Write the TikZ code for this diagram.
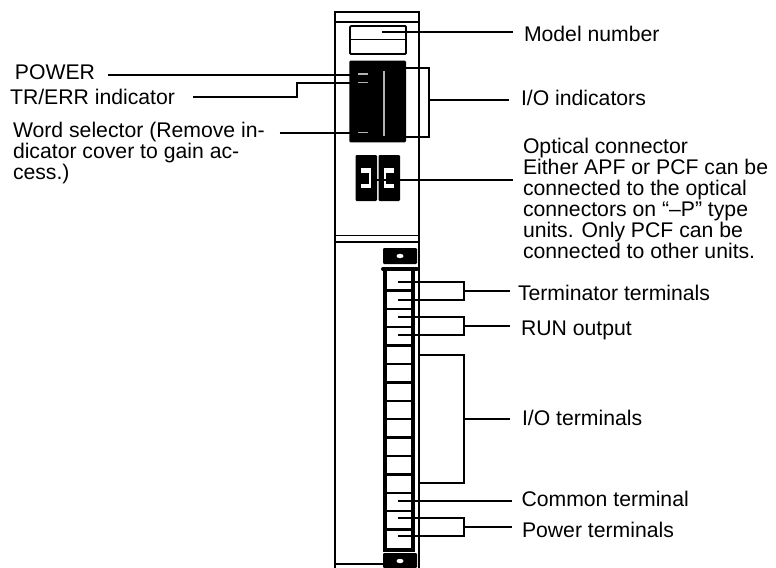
\documentclass[tikz,border=0pt]{standalone}
\usepackage{fontspec}
\setmainfont{Liberation Sans}
\tikzset{
  lbl/.style={anchor=base west, inner ysep=0pt, inner xsep=#1*0.75pt, outer sep=0pt, font=\fontsize{15.9}{15.75}\selectfont},
  lblr/.style={lbl=#1, anchor=base east},
  lblm/.style={lbl=#1, anchor=west, align=left},
  lead/.style={draw=black, line width=1.5pt},
  wall/.style={draw=black, line width=1.4pt},
  blk/.style={fill=black, rounded corners=0.8pt},
}
\newcommand{\bracketlead}[4]{\draw[lead] (#1,#2) -- (464,#2) -- (464,#3) -- (#1,#3); \draw[lead] (464,{(#2+#3)/2}) -- (#4.west |- 464,{(#2+#3)/2});}
\begin{document}
\begin{tikzpicture}[x=0.75pt, y=-0.75pt]
\useasboundingbox (0,0) rectangle (776,568);
% housing
\draw[wall] (335,568) -- (335,12) -- (419,12) -- (419,568);
\draw[wall] (335,22) -- (419,22);
\draw[wall, line width=1.1pt] (335,235.5) -- (419,235.5);
\draw[wall, line width=1.1pt] (335,242) -- (419,242);
\draw[wall] (335,564) -- (383,564);
% model number plate
\draw[wall, rounded corners=0.8pt] (350,26) rectangle (406,54);
\draw[wall] (350,39.5) -- (406,39.5);
% indicators
\fill[blk] (349.3,60.7) rectangle (406,142.3);
\foreach \y in {74,82.7,132.7} \draw[gray!60, line width=1pt] (358.3,\y) -- (367.7,\y);
\draw[gray!60, line width=1pt] (384,70.7) -- (384,135.7);
% optical connector
\fill[blk] (355.5,155) rectangle (377,201);
\fill[blk] (378.5,155) rectangle (400,201);
\fill[white] (361.3,168.3) rectangle (370.7,187.7);
\fill[black] (361.3,173) rectangle (369,183.5);
\fill[white] (384.3,168.3) rectangle (394,187.7);
\fill[black] (386,173) rectangle (394,183.5);
% terminal block
\fill[blk] (383,248) rectangle (417,264);
\fill[white] (400,256) ellipse (3.5 and 2.2);
\fill[blk] (383,553) rectangle (417,568);
\fill[white] (400,561) ellipse (3.5 and 2.2);
\draw[black, line width=3pt] (385,268) -- (385,550) -- (413,550) -- (413,268);
\draw[black, line width=3pt, line cap=round] (383,269) -- (417,269);
\foreach \i in {1,...,14} \draw[black, line width=1.9pt] (385,{272+18.4*\i}) -- (413,{272+18.4*\i});
% labels right
\node[lbl=11] (model) at (513,41) {Model number};
\node[lbl=12.5] (ioind) at (508.5,105) {I/O indicators};
\node[lblm=10] (optical) at (513,198) {Optical connector\\Either APF or PCF can be\\connected to the optical\\connectors on ``--P'' type\\units. Only PCF can be\\connected to other units.};
\node[lbl=8] (termin) at (510,300) {Terminator terminals};
\node[lbl=11] (runout) at (510,335.7) {RUN output};
\node[lbl=12] (ioterm) at (510,425) {I/O terminals};
\node[lbl=9.5] (common) at (512,506.7) {Common terminal};
\node[lbl=10] (powert) at (512,537) {Power terminals};
% labels left
\node[lblr=13] (power) at (108,79) {POWER};
\node[lblr=18] (trerr) at (193,104) {TR/ERR indicator};
\node[lblm=15] (word) at (-2,153.5) {Word selector (Remove in-\\dicator cover to gain ac-\\cess.)};
% leaders
\coordinate (modelend) at (381.7,32);
\coordinate (ledpower) at (349.5,74.5);
\coordinate (ledtrerr) at (349.5,83);
\coordinate (ledword) at (349.5,133);
\coordinate (ioindmid) at (428.7,99.5);
\coordinate (opticalend) at (376,179.5);
\coordinate (commonend) at (398,500.7);
\draw[lead] (model.west |- modelend) -- (modelend);
\draw[lead] (power.east |- ledpower) -- (ledpower);
\draw[lead] (trerr.east |- 297,96.7) -- (297,96.7) -- (297,83) -- (ledtrerr);
\draw[lead] (word.east |- ledword) -- (ledword);
\draw[lead] (406,68) -- (428.7,68) -- (428.7,136.7) -- (406,136.7);
\draw[lead] (ioindmid) -- (ioind.west |- ioindmid);
\draw[lead] (opticalend) -- (optical.west |- opticalend);
\bracketlead{398}{282}{300}{termin}
\bracketlead{398}{317}{335}{runout}
\draw[lead] (419,355) -- (464,355) -- (464,483) -- (419,483);
\draw[lead] (464,419) -- (ioterm.west |- 464,419);
\draw[lead, line width=1.25pt] (commonend) -- (common.west |- commonend);
\bracketlead{398}{518}{536}{powert}
\end{tikzpicture}
\end{document}
